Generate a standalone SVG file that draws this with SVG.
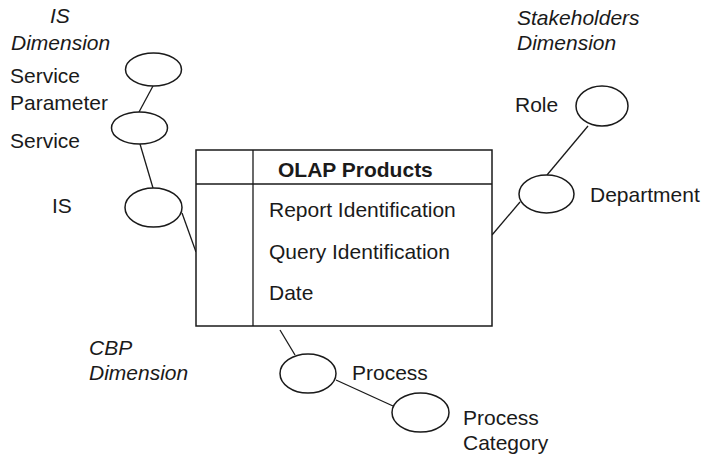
<svg xmlns="http://www.w3.org/2000/svg" width="704" height="457" viewBox="0 0 704 457">
<style>
text{font-family:"Liberation Sans",Arial,sans-serif;font-size:21px;fill:#1a1a1a}
.it{font-style:italic}
.b{font-weight:bold}
.sh{fill:#fff;stroke:#1a1a1a;stroke-width:1.5}
.ln{fill:none;stroke:#1a1a1a;stroke-width:1.3}
</style>
<rect width="704" height="457" fill="#fff"/>
<g id="connectors">
<line class="ln" x1="153" y1="86" x2="139" y2="112"/>
<line class="ln" x1="140" y1="144" x2="153" y2="188"/>
<line class="ln" x1="182" y1="213" x2="196" y2="252"/>
<line class="ln" x1="588" y1="126" x2="547" y2="175"/>
<line class="ln" x1="520" y1="202" x2="492" y2="235"/>
<line class="ln" x1="280" y1="330" x2="295" y2="355"/>
<line class="ln" x1="336" y1="380" x2="393" y2="406"/>
</g>
<g id="labels-dim">
<text class="it" x="50" y="23">IS</text>
<text class="it" x="11" y="50">Dimension</text>
<text class="it" x="517" y="25">Stakeholders</text>
<text class="it" x="517" y="50">Dimension</text>
<text class="it" x="89" y="355">CBP</text>
<text class="it" x="89" y="380">Dimension</text>
</g>
<g id="olap">
<rect class="sh" x="196" y="150" width="296" height="176"/>
<line class="ln" x1="196" y1="184" x2="492" y2="184"/>
<line class="ln" x1="253" y1="150" x2="253" y2="326"/>
<text class="b" x="278" y="177">OLAP Products</text>
<text x="269" y="217">Report Identification</text>
<text x="269" y="259">Query Identification</text>
<text x="269" y="300">Date</text>
</g>
<g id="service-parameter">
<ellipse class="sh" cx="153.5" cy="69.5" rx="28" ry="16.5"/>
<text x="10" y="83">Service</text>
<text x="10" y="110">Parameter</text>
</g>
<g id="service">
<ellipse class="sh" cx="139.5" cy="128" rx="28" ry="16"/>
<text x="10" y="148">Service</text>
</g>
<g id="is">
<ellipse class="sh" cx="153.5" cy="207.5" rx="28.5" ry="19.5"/>
<text x="52" y="213">IS</text>
</g>
<g id="role">
<ellipse class="sh" cx="602" cy="106" rx="26" ry="20"/>
<text x="515" y="112">Role</text>
</g>
<g id="department">
<ellipse class="sh" cx="546.5" cy="194" rx="27.5" ry="19"/>
<text x="590" y="202">Department</text>
</g>
<g id="process">
<ellipse class="sh" cx="308" cy="373.5" rx="28" ry="19.5"/>
<text x="352" y="380">Process</text>
</g>
<g id="process-category">
<ellipse class="sh" cx="420.5" cy="412.5" rx="28.5" ry="19.5"/>
<text x="463" y="425">Process</text>
<text x="463" y="450">Category</text>
</g>
</svg>
